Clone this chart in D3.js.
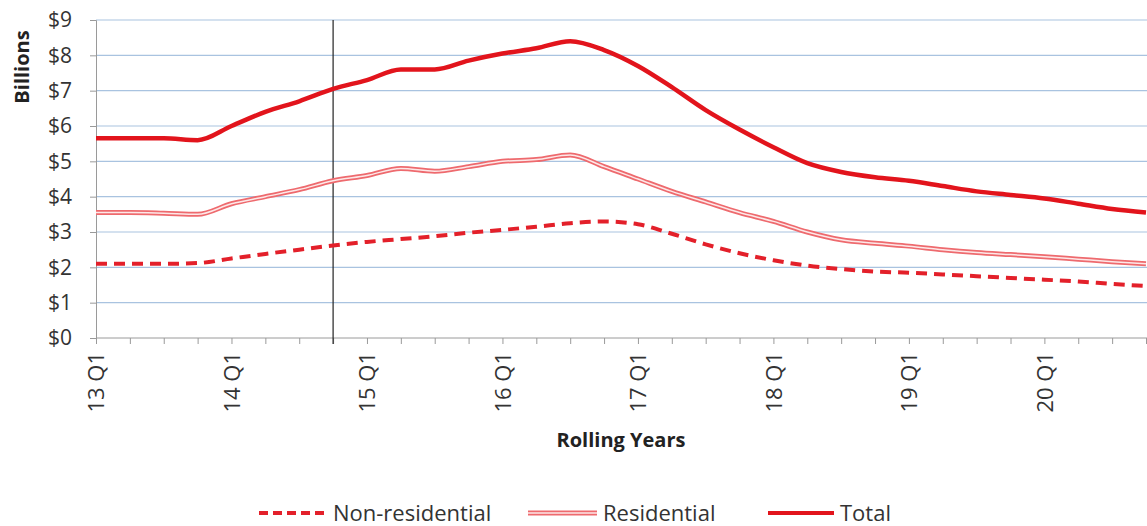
<!DOCTYPE html>
<html><head><meta charset="utf-8">
<script src="https://cdn.jsdelivr.net/npm/d3@7"></script>
<style>body{margin:0;background:#fff}svg{display:block}text{font-family:"Open Sans","Liberation Sans",sans-serif}</style>
</head><body>
<svg id="c" width="1147" height="526"></svg>
<script>
const quarters = [];
for (let y = 13; y <= 20; y++) for (let q = 1; q <= 4; q++) quarters.push(y + " Q" + q);
const tickLabels = ["13 Q1","14 Q1","15 Q1","16 Q1","17 Q1","18 Q1","19 Q1","20 Q1"];
const yTicks = [0,1,2,3,4,5,6,7,8,9];
const markerQuarter = "14 Q4";
const nonResidential = [2.1,2.1,2.1,2.12, 2.25,2.38,2.5,2.62, 2.72,2.8,2.88,2.98, 3.06,3.15,3.25,3.3, 3.22,2.95,2.65,2.4, 2.2,2.05,1.95,1.88, 1.85,1.8,1.75,1.7, 1.65,1.6,1.53,1.47];
const residential = [3.55,3.55,3.53,3.5, 3.8,4.0,4.2,4.45, 4.6,4.8,4.72,4.85, 5.0,5.05,5.18,4.85, 4.5,4.15,3.85,3.55, 3.3,3.0,2.78,2.68, 2.6,2.5,2.42,2.36, 2.3,2.23,2.16,2.1];
const total = [5.65,5.65,5.65,5.6, 6.0,6.4,6.7,7.05, 7.3,7.6,7.6,7.85, 8.05,8.2,8.4,8.15, 7.7,7.1,6.45,5.9, 5.4,4.95,4.7,4.55, 4.45,4.3,4.15,4.05, 3.95,3.8,3.65,3.55];

const svg = d3.select("#c");
const x = d3.scalePoint().domain(quarters).range([96, 1146]);
const y = d3.scaleLinear().domain([0, 9]).range([338, 20]);

// gridlines
svg.append("g").selectAll("line").data(yTicks.filter(d => d > 0)).join("line")
  .attr("x1", 96).attr("x2", 1147).attr("y1", d => y(d)).attr("y2", d => y(d))
  .attr("stroke", "#a9c3e0").attr("stroke-width", 1.2);

// y axis
const ya = svg.append("g").attr("transform", "translate(96,0)")
  .call(d3.axisLeft(y).tickValues(yTicks).tickFormat(d => "$" + d).tickSize(6).tickPadding(18));
ya.select(".domain").attr("stroke", "#9a9a9a");
ya.selectAll(".tick line").attr("stroke", "#9a9a9a");
ya.selectAll("text").attr("font-size", 21).attr("fill", "#333");

// x axis
const xa = svg.append("g").attr("transform", "translate(0,338)")
  .call(d3.axisBottom(x).tickSize(6).tickFormat(d => tickLabels.includes(d) ? d : ""));
xa.select(".domain").attr("stroke", "#9a9a9a").attr("d", "M96,0H1147");
xa.selectAll(".tick line").attr("stroke", "#9a9a9a");
xa.selectAll("text").attr("font-size", 22).attr("fill", "#333")
  .attr("transform", "rotate(-90)").attr("text-anchor", "end")
  .attr("x", -14).attr("y", 0).attr("dy", "0.35em");

// marker line
svg.append("line").attr("x1", x(markerQuarter)).attr("x2", x(markerQuarter))
  .attr("y1", 20).attr("y2", 344).attr("stroke", "#222").attr("stroke-width", 1.2);

const line = d3.line().x((d, i) => x(quarters[i])).y(d => y(d)).curve(d3.curveMonotoneX);

svg.append("path").attr("d", line(nonResidential)).attr("fill", "none")
  .attr("stroke", "#e3202a").attr("stroke-width", 4).attr("stroke-dasharray", "11,7");
svg.append("path").attr("d", line(residential)).attr("fill", "none")
  .attr("stroke", "#ee6a6e").attr("stroke-width", 5);
svg.append("path").attr("d", line(residential)).attr("fill", "none")
  .attr("stroke", "#fde8e8").attr("stroke-width", 1.5);
svg.append("path").attr("d", line(total)).attr("fill", "none")
  .attr("stroke", "#e2141c").attr("stroke-width", 4.5);

// titles
svg.append("text").attr("transform", "translate(22,67) rotate(-90)").attr("text-anchor", "middle")
  .attr("dy", "0.35em").attr("font-size", 20).attr("font-weight", "bold").attr("fill", "#222").text("Billions");
svg.append("text").attr("x", 621).attr("y", 447).attr("text-anchor", "middle")
  .attr("font-size", 20).attr("font-weight", "bold").attr("fill", "#222").text("Rolling Years");

// legend
const legend = [
  {name: "Non-residential", x1: 259, x2: 326, tx: 333, type: "dash"},
  {name: "Residential", x1: 528, x2: 597, tx: 603, type: "double"},
  {name: "Total", x1: 768, x2: 834, tx: 840, type: "solid"}
];
const lg = svg.append("g");
legend.forEach(l => {
  const ly = 513;
  if (l.type === "dash") {
    lg.append("line").attr("x1", l.x1).attr("x2", l.x2).attr("y1", ly).attr("y2", ly)
      .attr("stroke", "#e3202a").attr("stroke-width", 4).attr("stroke-dasharray", "9,5");
  } else if (l.type === "double") {
    lg.append("line").attr("x1", l.x1).attr("x2", l.x2).attr("y1", ly).attr("y2", ly)
      .attr("stroke", "#ee6a6e").attr("stroke-width", 5);
    lg.append("line").attr("x1", l.x1).attr("x2", l.x2).attr("y1", ly).attr("y2", ly)
      .attr("stroke", "#fde8e8").attr("stroke-width", 1.5);
  } else {
    lg.append("line").attr("x1", l.x1).attr("x2", l.x2).attr("y1", ly).attr("y2", ly)
      .attr("stroke", "#e2141c").attr("stroke-width", 4);
  }
  lg.append("text").attr("x", l.tx).attr("y", ly).attr("dy", "0.35em")
    .attr("font-size", 22).attr("fill", "#333").text(l.name);
});
</script>
</body></html>
